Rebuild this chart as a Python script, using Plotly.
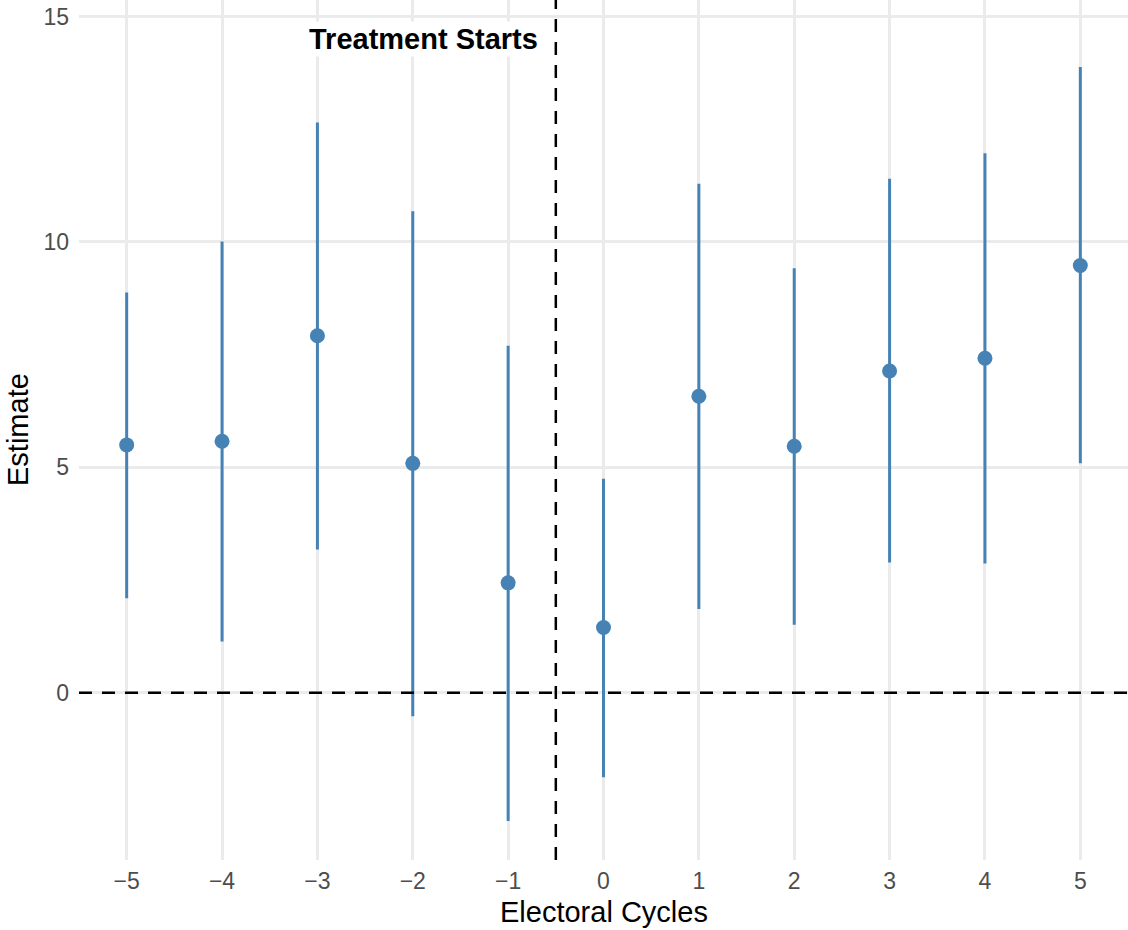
import plotly.graph_objects as go

# event-study estimates
cycles = [-5, -4, -3, -2, -1, 0, 1, 2, 3, 4, 5]
estimate = [5.50, 5.58, 7.92, 5.09, 2.44, 1.45, 6.58, 5.47, 7.14, 7.42, 9.48]
ci_upper = [8.88, 10.01, 12.65, 10.68, 7.70, 4.75, 11.29, 9.42, 11.40, 11.97, 13.88]
ci_lower = [2.10, 1.14, 3.18, -0.52, -2.84, -1.87, 1.86, 1.51, 2.89, 2.87, 5.09]

x_ticks = cycles
x_ticklabels = [str(c).replace("-", "\u2212") for c in cycles]
y_ticks = [0, 5, 10, 15]

treat_x = -0.5
label_y = 14.5
label_text = "Treatment Starts"

BLUE = "#4682B4"
GRID = "#EBEBEB"
FONT = "Liberation Sans"

# ggplot-style 5% expansion of the scales
x_pad = 0.05 * (max(cycles) - min(cycles))
y_min, y_max = min(ci_lower), max(label_y, max(ci_upper))
y_pad = 0.05 * (y_max - y_min)

fig = go.Figure()
fig.add_trace(go.Scatter(
    x=cycles, y=estimate, mode="markers",
    marker=dict(color=BLUE, size=15),
    error_y=dict(type="data", symmetric=False,
                 array=[u - e for u, e in zip(ci_upper, estimate)],
                 arrayminus=[e - l for e, l in zip(estimate, ci_lower)],
                 width=0, thickness=3, color=BLUE),
    showlegend=False,
))

fig.add_hline(y=0, line=dict(color="black", width=2.5, dash="13px,10px"))
fig.add_vline(x=treat_x, line=dict(color="black", width=2.5, dash="13px,10px"))

fig.add_annotation(x=treat_x, y=label_y, text="<b>" + label_text + "</b>",
                   showarrow=False, xanchor="right", yanchor="middle", xshift=-16,
                   bgcolor="white", borderpad=1,
                   font=dict(family=FONT, size=29, color="black"))

# axis titles
fig.add_annotation(xref="paper", yref="paper", x=0.5, y=0, yshift=-52,
                   text="Electoral Cycles", showarrow=False,
                   xanchor="center", yanchor="middle", borderpad=0,
                   font=dict(family=FONT, size=29, color="black"))
fig.add_annotation(xref="paper", yref="paper", x=0, y=0.5, xshift=-61,
                   text="Estimate", showarrow=False, textangle=-90,
                   xanchor="center", yanchor="middle", borderpad=0,
                   font=dict(family=FONT, size=29, color="black"))

fig.update_xaxes(range=[min(cycles) - x_pad, max(cycles) + x_pad],
                 tickvals=x_ticks, ticktext=x_ticklabels,
                 showgrid=True, gridcolor=GRID, gridwidth=2.5,
                 zeroline=False, showline=False, ticks="",
                 ticklabelstandoff=5,
                 tickfont=dict(family=FONT, size=23, color="#4D4D4D"))
fig.update_yaxes(range=[y_min - y_pad, y_max + y_pad],
                 tickvals=y_ticks,
                 showgrid=True, gridcolor=GRID, gridwidth=2.5,
                 zeroline=False, showline=False, ticks="",
                 ticklabelstandoff=9, ticklabeloverflow="allow",
                 tickfont=dict(family=FONT, size=23, color="#4D4D4D"))

fig.update_layout(
    width=1128, height=930,
    margin=dict(l=79, r=0, t=0, b=70),
    plot_bgcolor="white", paper_bgcolor="white",
    font=dict(family=FONT),
)

# let the figure fill the window exactly (no default body margin), no modebar
fig.write_html("out.html", config={"displayModeBar": False},
               post_script="document.body.style.margin = '0';")
